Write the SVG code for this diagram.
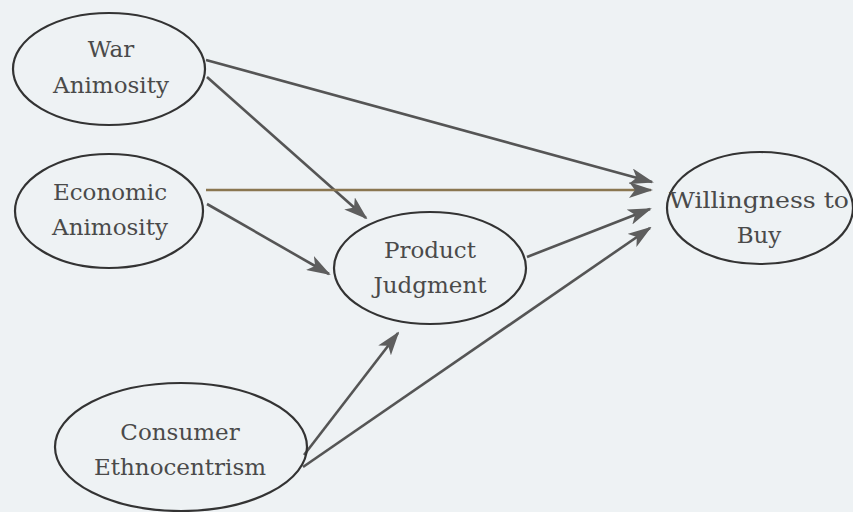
<svg xmlns="http://www.w3.org/2000/svg" width="853" height="512" viewBox="0 0 853 512">
<style>
.node ellipse{fill:none;stroke:#333;stroke-width:2.2}
.node text{font-family:'DejaVu Serif','Liberation Serif',serif;font-size:23px;fill:#4a4a4a;text-anchor:middle}
.edge{stroke:#555;stroke-width:2.6;fill:none;marker-end:url(#ah)}
</style>
<defs>
<marker id="ah" viewBox="0 0 24 16" refX="22" refY="8" markerWidth="24" markerHeight="16" markerUnits="userSpaceOnUse" orient="auto">
<path d="M0,0 L24,8 L0,16 L6,8 Z" fill="#5e5e5e"/>
</marker>
</defs>
<rect width="853" height="512" fill="#eef2f4"/>
<g id="connectors">
<line class="edge" x1="206" y1="60" x2="652" y2="182"/>
<line class="edge" x1="207" y1="77" x2="366" y2="218"/>
<line class="edge" x1="206" y1="190" x2="651" y2="190" style="stroke:#8a7650"/>
<line class="edge" x1="207" y1="204" x2="329" y2="274"/>
<line class="edge" x1="527" y1="257" x2="650" y2="209"/>
<line class="edge" x1="303" y1="467" x2="650" y2="228"/>
<line class="edge" x1="304" y1="455" x2="398" y2="333"/>
</g>
<g id="war" class="node">
<ellipse cx="109" cy="69" rx="96" ry="56"/>
<text x="111" y="57">War</text>
<text x="111" y="93">Animosity</text>
</g>
<g id="economic" class="node">
<ellipse cx="109" cy="211" rx="94" ry="57"/>
<text x="110" y="200">Economic</text>
<text x="110" y="235">Animosity</text>
</g>
<g id="product" class="node">
<ellipse cx="430" cy="268" rx="96" ry="56"/>
<text x="430" y="258">Product</text>
<text x="430" y="293">Judgment</text>
</g>
<g id="wtb" class="node">
<ellipse cx="760" cy="208" rx="93" ry="56"/>
<text x="759" y="208" textLength="180" lengthAdjust="spacingAndGlyphs">Willingness to</text>
<text x="759" y="243">Buy</text>
</g>
<g id="consumer" class="node">
<ellipse cx="181" cy="447" rx="126" ry="64"/>
<text x="180" y="440">Consumer</text>
<text x="180" y="475">Ethnocentrism</text>
</g>
</svg>
